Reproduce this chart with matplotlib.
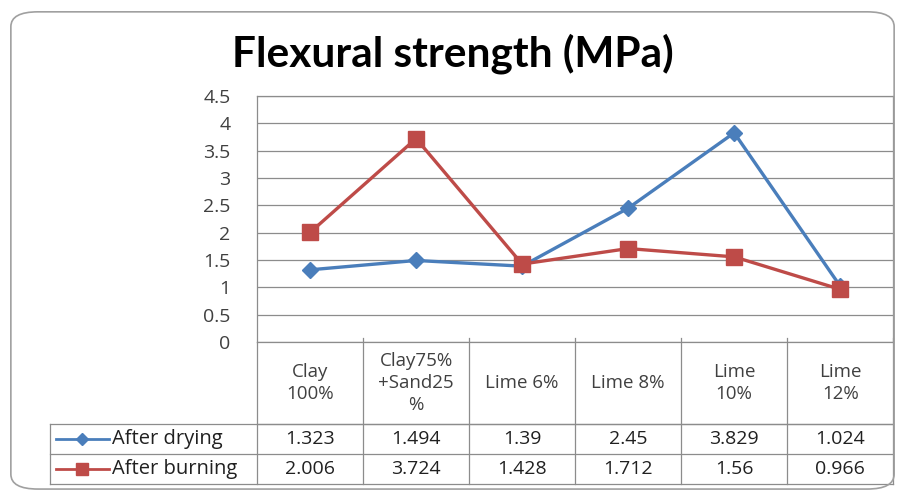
import matplotlib.pyplot as plt
from matplotlib.patches import FancyBboxPatch
import matplotlib.transforms as mtransforms

categories = ['Clay\n100%', 'Clay75%\n+Sand25\n%', 'Lime 6%', 'Lime 8%', 'Lime\n10%', 'Lime\n12%']
after_drying = [1.323, 1.494, 1.39, 2.45, 3.829, 1.024]
after_burning = [2.006, 3.724, 1.428, 1.712, 1.56, 0.966]
drying_labels = ['1.323', '1.494', '1.39', '2.45', '3.829', '1.024']
burning_labels = ['2.006', '3.724', '1.428', '1.712', '1.56', '0.966']
yticks = [0, 0.5, 1, 1.5, 2, 2.5, 3, 3.5, 4, 4.5]

blue = '#4A7EBB'
red = '#BE4B48'
grid_c = '#8C8C8C'
text_c = '#404040'

plt.rcParams['font.family'] = ['Open Sans', 'DejaVu Sans']

fig = plt.figure(figsize=(9.05, 4.93), dpi=100)
fig.patch.set_facecolor('white')
fig.patches.append(FancyBboxPatch((0.012, 0.008), 0.976, 0.968,
                                  boxstyle='round,pad=0,rounding_size=0.03',
                                  transform=fig.transFigure, fill=False,
                                  edgecolor='#A0A0A0', linewidth=1.2))

ax = fig.add_axes([0.284, 0.306, 0.703, 0.499])
x = range(len(categories))
ax.plot(x, after_drying, color=blue, lw=2.4, marker='D', ms=8, mfc=blue, mec=blue)
ax.plot(x, after_burning, color=red, lw=2.4, marker='s', ms=11, mfc=red, mec=red)

ax.set_xlim(-0.5, len(categories) - 0.5)
ax.set_ylim(0, 4.5)
ax.set_yticks(yticks)
ax.set_yticklabels(['0', '0.5', '1', '1.5', '2', '2.5', '3', '3.5', '4', '4.5'])
ax.tick_params(axis='y', length=0, pad=19, labelsize=14, labelcolor=text_c)
ax.set_xticks([])
ax.grid(axis='y', color=grid_c, lw=0.9)
ax.set_axisbelow(True)
for s in ax.spines.values():
    s.set_color(grid_c)
    s.set_linewidth(0.9)

# data table below the plot
trans = mtransforms.blended_transform_factory(ax.transData, ax.transAxes)
h_head = 0.333
h_row = 0.122
y1 = -h_head
y2 = y1 - h_row
y3 = y2 - h_row
kw = dict(transform=trans, color=grid_c, lw=0.9, clip_on=False)
for b in [i - 0.5 for i in range(len(categories) + 1)]:
    ax.plot([b, b], [0.015 if b > -0.5 else 0, y3], **kw)
xl = -0.5 - 1.95
ax.plot([-0.5, len(categories) - 0.5], [y1, y1], **kw)
ax.plot([xl, len(categories) - 0.5], [y1, y1], **kw)
ax.plot([xl, len(categories) - 0.5], [y2, y2], **kw)
ax.plot([xl, len(categories) - 0.5], [y3, y3], **kw)
ax.plot([xl, xl], [y1, y3], **kw)

for i, c in enumerate(categories):
    ax.text(i, -h_head / 2, c, transform=trans, ha='center', va='center',
            fontsize=13.5, color=text_c, linespacing=1.3)
    ax.text(i, y1 - h_row / 2, drying_labels[i], transform=trans, ha='center',
            va='center', fontsize=14, color='#202020')
    ax.text(i, y2 - h_row / 2, burning_labels[i], transform=trans, ha='center',
            va='center', fontsize=14, color='#202020')

# legend keys inside table
for yc, col, mk, ms, name in [(y1 - h_row / 2, blue, 'D', 6, 'After drying'),
                              (y2 - h_row / 2, red, 's', 9, 'After burning')]:
    ax.plot([xl + 0.05, xl + 0.55], [yc, yc], color=col, lw=2, clip_on=False, transform=trans)
    ax.plot([xl + 0.3], [yc], color=col, marker=mk, ms=ms, clip_on=False, transform=trans)
    ax.text(xl + 0.58, yc, name, transform=trans, ha='left', va='center',
            fontsize=14.5, color='#202020')

fig.text(0.5, 0.892, 'Flexural strength (MPa)', family=['Lato', 'DejaVu Sans'],
         ha='center', va='center', fontsize=30.5, fontweight='bold', color='black')

fig.savefig('out.png', dpi=100)
